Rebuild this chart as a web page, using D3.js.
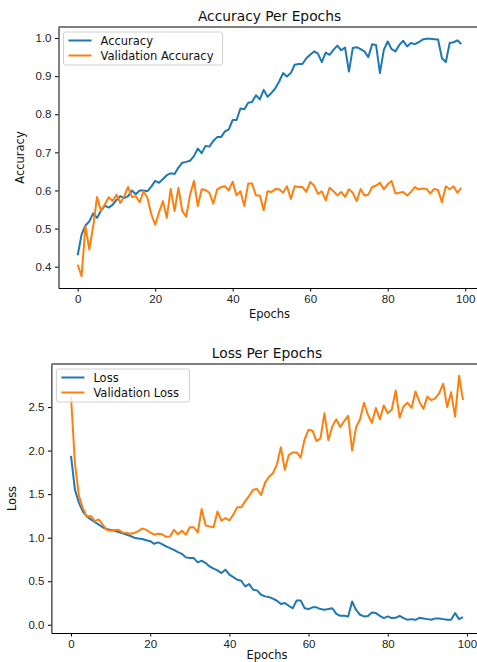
<!DOCTYPE html>
<html>
<head>
<meta charset="utf-8">
<script src="https://cdn.jsdelivr.net/npm/d3@7"></script>
<style>
  body { margin: 0; background: #fff; }
  svg { display: block; font-family: "DejaVu Sans", sans-serif; }
  .tick text { fill: #222; font-size: 11.5px; }
  .tick line, .domain { stroke: #000; stroke-width: 1; }
</style>
</head>
<body>
<svg id="chart" width="477" height="662"></svg>
<script>
// epochs 0..99
var epochs = d3.range(0, 100);

var accuracy = [0.43, 0.484, 0.508, 0.519, 0.54, 0.528, 0.547, 0.56, 0.555, 0.562,
  0.575, 0.585, 0.58, 0.585, 0.60, 0.59, 0.60, 0.60, 0.598, 0.61,
  0.625, 0.62, 0.63, 0.64, 0.645, 0.643, 0.66, 0.673, 0.675, 0.678,
  0.69, 0.71, 0.698, 0.717, 0.715, 0.73, 0.74, 0.74, 0.755, 0.76,
  0.785, 0.785, 0.815, 0.813, 0.83, 0.832, 0.85, 0.839, 0.864, 0.846,
  0.856, 0.868, 0.886, 0.908, 0.899, 0.908, 0.93, 0.932, 0.932, 0.947,
  0.956, 0.965, 0.959, 0.937, 0.962, 0.956, 0.969, 0.98, 0.968, 0.975,
  0.912, 0.974, 0.976, 0.971, 0.965, 0.95, 0.984, 0.982, 0.908, 0.969,
  0.991, 0.971, 0.965, 0.982, 0.993, 0.978, 0.987, 0.984, 0.989, 0.996,
  0.998, 0.998, 0.997, 0.996, 0.947, 0.937, 0.987, 0.989, 0.994, 0.984];

var valAccuracy = [0.405, 0.375, 0.506, 0.445, 0.506, 0.583, 0.547, 0.563, 0.582, 0.572,
  0.589, 0.567, 0.585, 0.609, 0.583, 0.585, 0.569, 0.598, 0.581, 0.537,
  0.51, 0.543, 0.572, 0.528, 0.604, 0.546, 0.607, 0.546, 0.531, 0.589,
  0.625, 0.559, 0.603, 0.601, 0.594, 0.565, 0.603, 0.609, 0.611, 0.60,
  0.623, 0.587, 0.598, 0.559, 0.618, 0.618, 0.587, 0.587, 0.548, 0.598,
  0.596, 0.604, 0.603, 0.594, 0.611, 0.578, 0.611, 0.609, 0.609, 0.596,
  0.622, 0.613, 0.591, 0.598, 0.574, 0.607, 0.598, 0.587, 0.596, 0.583,
  0.603, 0.594, 0.572, 0.604, 0.587, 0.589, 0.609, 0.613, 0.62, 0.603,
  0.616, 0.625, 0.592, 0.594, 0.596, 0.587, 0.596, 0.609, 0.603, 0.605,
  0.604, 0.592, 0.604, 0.601, 0.569, 0.611, 0.603, 0.611, 0.594, 0.607];

var loss = [1.94, 1.55, 1.40, 1.30, 1.245, 1.21, 1.18, 1.15, 1.12, 1.10,
  1.09, 1.08, 1.065, 1.05, 1.035, 1.02, 1.0, 0.99, 0.985, 0.97,
  0.96, 0.93, 0.946, 0.927, 0.90, 0.88, 0.86, 0.835, 0.815, 0.774,
  0.766, 0.766, 0.716, 0.736, 0.709, 0.67, 0.644, 0.625, 0.594, 0.632,
  0.575, 0.548, 0.517, 0.506, 0.44, 0.467, 0.402, 0.395, 0.345, 0.326,
  0.318, 0.30, 0.276, 0.238, 0.249, 0.218, 0.19, 0.28, 0.28, 0.19,
  0.18, 0.20, 0.20, 0.18, 0.172, 0.18, 0.19, 0.126, 0.103, 0.103,
  0.096, 0.268, 0.17, 0.115, 0.096, 0.10, 0.14, 0.134, 0.103, 0.077,
  0.096, 0.077, 0.08, 0.103, 0.077, 0.057, 0.065, 0.057, 0.08, 0.073,
  0.065, 0.057, 0.073, 0.073, 0.065, 0.057, 0.057, 0.134, 0.065, 0.088];

var valLoss = [2.62, 1.85, 1.48, 1.34, 1.24, 1.25, 1.19, 1.21, 1.15, 1.09,
  1.08, 1.085, 1.09, 1.06, 1.055, 1.045, 1.055, 1.075, 1.105, 1.09,
  1.06, 1.035, 1.045, 1.04, 1.01, 1.015, 1.09, 1.04, 1.08, 1.035,
  1.12, 1.12, 1.06, 1.33, 1.14, 1.13, 1.12, 1.30, 1.195, 1.225,
  1.20, 1.265, 1.35, 1.35, 1.42, 1.48, 1.55, 1.56, 1.49, 1.63,
  1.70, 1.74, 1.84, 2.04, 1.78, 1.95, 1.98, 1.98, 1.92, 2.13,
  2.24, 2.23, 2.11, 2.14, 2.43, 2.12, 2.28, 2.36, 2.27, 2.34,
  2.40, 2.0, 2.27, 2.36, 2.55, 2.41, 2.32, 2.49, 2.36, 2.52,
  2.43, 2.47, 2.69, 2.38, 2.51, 2.55, 2.49, 2.68, 2.56, 2.48,
  2.62, 2.58, 2.60, 2.66, 2.77, 2.50, 2.67, 2.39, 2.86, 2.58];

var xTicks = [0, 20, 40, 60, 80, 100];
var accTicks = [0.4, 0.5, 0.6, 0.7, 0.8, 0.9, 1.0];
var lossTicks = [0.0, 0.5, 1.0, 1.5, 2.0, 2.5];

var BLUE = '#1f77b4', ORANGE = '#ff7f0e';
var svg = d3.select('#chart');

function panel(opt) {
  var g = svg.append('g');
  var x = d3.scaleLinear().domain([-4.95, 103.95]).range([opt.left, opt.right]);
  var y = d3.scaleLinear().domain(opt.yDomain).range([opt.bottom, opt.top]);

  g.append('g')
    .attr('transform', 'translate(0,' + opt.bottom + ')')
    .call(d3.axisBottom(x).tickValues(xTicks).tickFormat(d3.format('d')).tickSize(3.5).tickPadding(3.5).tickSizeOuter(0));
  g.append('g')
    .attr('transform', 'translate(' + opt.left + ',0)')
    .call(d3.axisLeft(y).tickValues(opt.yTicks).tickFormat(d3.format('.1f')).tickSize(3.5).tickPadding(3.5).tickSizeOuter(0));
  // top spine
  g.append('line')
    .attr('x1', opt.left).attr('x2', opt.right)
    .attr('y1', opt.top).attr('y2', opt.top)
    .attr('stroke', '#000');

  var line = d3.line().x((d, i) => x(epochs[i])).y(d => y(d));
  opt.series.forEach(function (s) {
    g.append('path')
      .datum(s.values)
      .attr('fill', 'none')
      .attr('stroke', s.color)
      .attr('stroke-width', 2)
      .attr('stroke-linejoin', 'round')
      .attr('d', line);
  });

  g.append('text')
    .attr('x', (opt.left + opt.right) / 2).attr('y', opt.top - 6)
    .attr('text-anchor', 'middle').attr('font-size', 13.8).attr('fill', '#111')
    .text(opt.title);
  g.append('text')
    .attr('x', (opt.left + opt.right) / 2).attr('y', opt.bottom + opt.xlabelDy)
    .attr('text-anchor', 'middle').attr('font-size', 11.5).attr('fill', '#111')
    .text('Epochs');
  g.append('text')
    .attr('transform', 'translate(' + opt.ylabelX + ',' + (opt.top + opt.bottom) / 2 + ') rotate(-90)')
    .attr('text-anchor', 'middle').attr('font-size', 11.5).attr('fill', '#111')
    .text(opt.ylabel);

  // legend
  var lg = g.append('g').attr('transform', 'translate(' + (opt.left + 5) + ',' + (opt.top + 5) + ')');
  lg.append('rect')
    .attr('width', opt.legendW).attr('height', 33).attr('rx', 2)
    .attr('fill', '#fff').attr('fill-opacity', 0.8)
    .attr('stroke', '#d0d0d0');
  opt.series.forEach(function (s, i) {
    var yy = 8.5 + i * 15;
    lg.append('line')
      .attr('x1', 5).attr('x2', 28).attr('y1', yy).attr('y2', yy)
      .attr('stroke', s.color).attr('stroke-width', 2);
    lg.append('text')
      .attr('x', 37).attr('y', yy + 4)
      .attr('font-size', 11.5).attr('fill', '#111')
      .text(s.name);
  });
}

panel({
  left: 58.5, right: 480.5, top: 27, bottom: 288, xlabelDy: 30,
  yDomain: [0.344, 1.029], yTicks: accTicks,
  title: 'Accuracy Per Epochs', ylabel: 'Accuracy', ylabelX: 24, legendW: 159,
  series: [
    {name: 'Accuracy', values: accuracy, color: BLUE},
    {name: 'Validation Accuracy', values: valAccuracy, color: ORANGE}
  ]
});

panel({
  left: 51.4, right: 482.6, top: 364, bottom: 633, xlabelDy: 26,
  yDomain: [-0.0945, 2.995], yTicks: lossTicks,
  title: 'Loss Per Epochs', ylabel: 'Loss', ylabelX: 16, legendW: 133,
  series: [
    {name: 'Loss', values: loss, color: BLUE},
    {name: 'Validation Loss', values: valLoss, color: ORANGE}
  ]
});
</script>
</body>
</html>
